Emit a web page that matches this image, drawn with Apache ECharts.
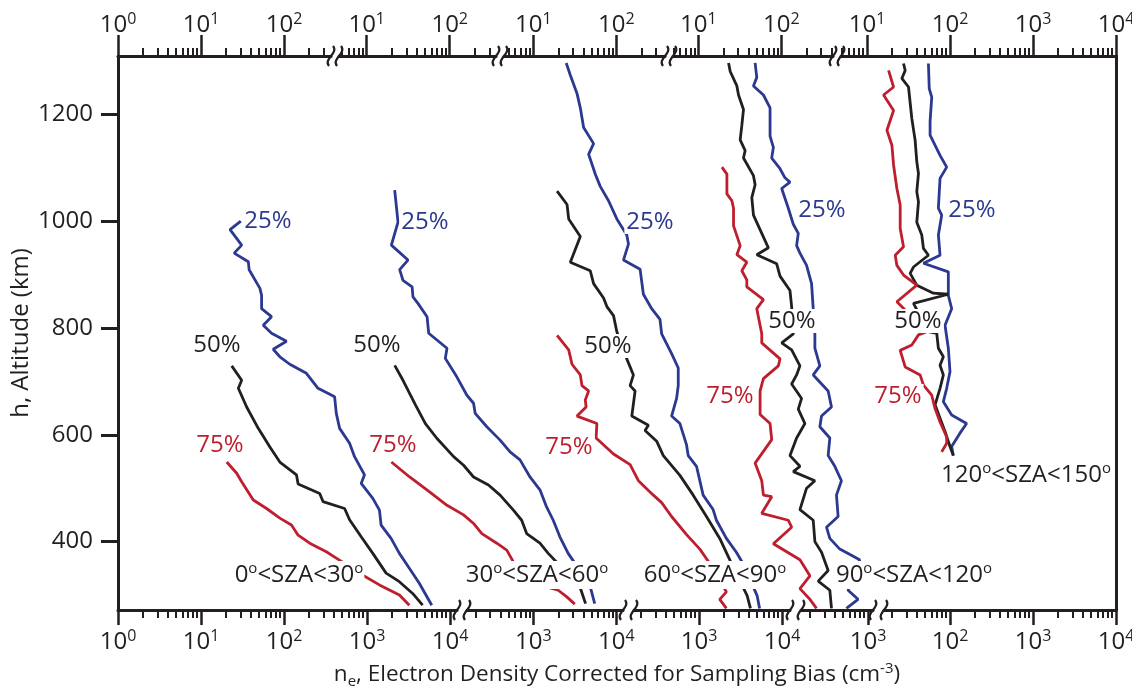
<!DOCTYPE html>
<html>
<head>
<meta charset="utf-8">
<title>Electron density profiles</title>
<script src="https://cdn.jsdelivr.net/npm/echarts@6/dist/echarts.min.js"></script>
<style>
html, body { margin: 0; padding: 0; background: #fff; }
#chart { width: 1132px; height: 688px; }
</style>
</head>
<body>
<div id="chart"></div>
<script>
// profiles: [log10 n_e (cm^-3) on the panel's bottom axis, altitude km]
var q25_sza0 = [[1.48,1000],[1.35,984],[1.49,955],[1.40,940],[1.57,924],[1.58,909],[1.71,874],[1.73,861],[1.73,836],[1.85,821],[1.75,805],[1.85,790],[2.03,775],[1.87,760],[1.95,746],[2.07,732],[2.27,715],[2.41,687],[2.61,671],[2.63,640],[2.67,612],[2.79,584],[2.85,559],[2.97,525],[2.93,509],[3.07,481],[3.15,459],[3.17,431],[3.29,406],[3.39,378],[3.51,350],[3.63,322],[3.78,281]];
var q50_sza0 = [[1.37,729],[1.49,702],[1.45,687],[1.55,652],[1.69,612],[1.83,577],[1.95,549],[2.15,525],[2.17,508],[2.43,490],[2.47,475],[2.73,462],[2.79,441],[2.93,409],[3.07,378],[3.23,341],[3.39,325],[3.55,303],[3.67,281]];
var q75_sza0 = [[1.31,549],[1.43,528],[1.49,512],[1.63,478],[1.79,462],[1.95,444],[2.09,431],[2.17,412],[2.31,397],[2.51,381],[2.63,369],[2.95,337],[3.15,319],[3.39,300],[3.51,281]];

var q25_sza30 = [[1.33,1058],[1.37,998],[1.29,955],[1.49,927],[1.39,909],[1.43,889],[1.54,877],[1.55,858],[1.61,846],[1.72,821],[1.74,790],[1.96,762],[1.94,743],[2.08,708],[2.20,674],[2.28,659],[2.30,640],[2.44,615],[2.60,590],[2.72,568],[2.84,553],[2.96,521],[3.08,497],[3.16,465],[3.24,440],[3.32,409],[3.42,378],[3.68,319],[3.74,284]];
var q50_sza30 = [[1.33,730],[1.43,702],[1.58,656],[1.70,621],[1.84,593],[2.04,559],[2.16,543],[2.28,521],[2.46,506],[2.60,487],[2.76,459],[2.86,440],[2.92,415],[3.08,397],[3.18,378],[3.56,316],[3.63,284]];
var q75_sza30 = [[1.29,549],[1.51,521],[1.75,493],[1.96,468],[2.16,450],[2.28,434],[2.38,415],[2.56,397],[2.68,384],[2.76,362],[3.00,322],[3.30,309],[3.40,297],[3.50,283]];

var q25_sza60 = [[1.40,1296],[1.45,1273],[1.53,1239],[1.57,1212],[1.61,1175],[1.73,1145],[1.67,1125],[1.75,1088],[1.81,1065],[1.91,1038],[2.01,1004],[2.13,974],[2.15,957],[2.09,927],[2.29,910],[2.33,863],[2.43,836],[2.53,816],[2.55,789],[2.67,752],[2.75,725],[2.75,692],[2.73,668],[2.67,635],[2.77,621],[2.85,581],[2.87,561],[2.97,541],[3.05,487],[3.17,460],[3.21,440],[3.33,406],[3.45,380],[3.53,359],[3.70,299],[3.73,275]];
var q50_sza60 = [[1.29,1056],[1.41,1031],[1.43,1004],[1.57,971],[1.45,923],[1.69,907],[1.73,883],[1.85,856],[1.89,840],[1.97,823],[2.01,793],[2.13,742],[2.21,712],[2.17,692],[2.23,682],[2.21,658],[2.19,635],[2.39,618],[2.35,608],[2.49,588],[2.57,561],[2.77,524],[2.93,487],[3.09,447],[3.25,406],[3.35,373],[3.41,353],[3.58,299],[3.62,275]];
var q75_sza60 = [[1.29,786],[1.43,759],[1.47,732],[1.57,712],[1.59,692],[1.67,682],[1.63,665],[1.64,652],[1.53,635],[1.77,621],[1.76,594],[1.97,564],[2.17,544],[2.27,514],[2.45,487],[2.55,473],[2.67,447],[2.85,413],[3.01,386],[3.13,359],[3.33,306],[3.25,292],[3.33,275]];

var q25_sza90 = [[1.64,1296],[1.66,1269],[1.62,1253],[1.74,1236],[1.82,1212],[1.82,1159],[1.86,1138],[1.84,1118],[1.94,1098],[2.00,1081],[2.06,1073],[1.96,1061],[2.04,1024],[2.10,994],[2.16,977],[2.14,954],[2.18,940],[2.26,917],[2.32,883],[2.34,836],[2.36,789],[2.36,762],[2.42,729],[2.34,712],[2.52,682],[2.56,652],[2.44,635],[2.42,615],[2.54,594],[2.52,561],[2.60,541],[2.68,514],[2.62,487],[2.64,447],[2.50,427],[2.54,406],[2.66,386],[2.90,366],[2.76,309],[2.88,292],[2.74,275]];
var q50_sza90 = [[1.32,1296],[1.34,1280],[1.42,1253],[1.44,1236],[1.50,1209],[1.48,1179],[1.46,1152],[1.52,1132],[1.50,1118],[1.62,1085],[1.64,1068],[1.60,1044],[1.62,1011],[1.72,977],[1.80,950],[1.66,937],[1.90,920],[1.94,897],[2.06,870],[2.08,840],[2.10,789],[1.96,772],[2.08,759],[2.18,729],[2.14,712],[2.08,695],[2.20,668],[2.16,648],[2.24,621],[2.14,594],[2.06,561],[2.18,541],[2.10,531],[2.36,514],[2.26,500],[2.18,460],[2.34,440],[2.36,400],[2.44,380],[2.52,346],[2.40,326],[2.54,309],[2.56,275]];
var q75_sza90 = [[1.24,1101],[1.30,1088],[1.30,1051],[1.36,1038],[1.38,1024],[1.38,991],[1.46,954],[1.42,937],[1.54,923],[1.48,907],[1.54,890],[1.54,877],[1.74,853],[1.66,836],[1.72,789],[1.72,772],[1.94,742],[1.92,729],[1.74,705],[1.70,682],[1.70,638],[1.82,621],[1.84,591],[1.64,547],[1.72,514],[1.74,487],[1.84,484],[1.72,453],[2.04,440],[2.08,427],[1.86,396],[2.18,366],[2.30,336],[2.18,312],[2.30,292],[2.38,275]];

var q25_sza120 = [[1.74,1295],[1.75,1248],[1.78,1232],[1.76,1186],[1.76,1161],[1.88,1123],[1.96,1101],[1.88,1080],[1.86,1024],[1.90,1011],[1.86,974],[1.88,936],[1.68,921],[1.98,905],[1.98,861],[2.02,836],[1.94,805],[1.98,762],[2.00,718],[1.96,687],[1.92,662],[2.02,637],[2.20,621],[2.12,603],[2.02,578],[2.04,561]];
var q50_sza120 = [[1.44,1295],[1.46,1282],[1.42,1267],[1.50,1251],[1.54,1192],[1.58,1151],[1.60,1111],[1.62,1089],[1.60,1055],[1.62,1036],[1.60,998],[1.66,974],[1.68,949],[1.74,936],[1.56,914],[1.52,902],[1.60,880],[1.80,865],[1.98,863],[1.56,846],[1.74,793],[1.84,790],[1.86,762],[1.92,746],[1.88,730],[1.92,712],[1.88,687],[1.82,656],[1.88,631],[1.94,606],[2.00,578],[2.04,561]];
var q75_sza120 = [[1.26,1282],[1.32,1251],[1.20,1236],[1.32,1207],[1.24,1170],[1.30,1142],[1.32,1105],[1.36,1061],[1.40,1030],[1.40,986],[1.44,952],[1.34,936],[1.36,917],[1.44,899],[1.60,880],[1.36,849],[1.72,793],[1.62,787],[1.54,768],[1.40,758],[1.46,727],[1.64,712],[1.68,693],[1.78,674],[1.82,649],[1.88,624],[1.96,596],[1.96,584],[1.90,568]];

var szaBins = [['0', '30'], ['30', '60'], ['60', '90'], ['90', '120'], ['120', '150']];
var quartileNames = ['25%', '50%', '75%'];
var altTicks = [400, 600, 800, 1000, 1200];
var minorMantissa = [2, 3, 4, 5, 6, 7, 8, 9];

var FONT = '"Open Sans", sans-serif';
var BLUE = '#2b3990', RED = '#be1e2d', BLACK = '#231f20';
var D = 83;            // px per decade
var PLOT_LEFT = 118, PLOT_RIGHT = 1116;
var PLOT_TOP = 56, PLOT_H = 554;
var H_MIN = 272, H_MAX = 1309;

// broken log axes: [left px, right px, exponent of ref tick, ref tick px]
var bottomPanels = [[118, 457, 0, 118], [467, 623, 3, 533.3], [634, 790, 3, 699], [801, 873, 3, 868], [884, 1116, 4, 1116]];
var topPanels = [[118, 331, 0, 118], [339, 496, 1, 366.7], [504, 665, 1, 533.3], [673, 833, 1, 698.4], [841, 1116, 4, 1116]];

// label layout (center px)
var pctPos = [[[268,221],[217,345],[220,445]], [[425,222],[377,345],[393,445]], [[650,222],[608,346],[569,447]],
              [[822,210],[792,321],[730,396]], [[972,210],[918,321],[898,396]]];
var szaPos = [[299,575], [537,575], [715,575], [914,575], [1026,475]];

var powRich = {
	b: {fontFamily: FONT, fontSize: 24, lineHeight: 28, color: BLACK},
	s: {fontFamily: FONT, fontSize: 16, lineHeight: 18, verticalAlign: 'top', color: BLACK}
};
function fmtPow(v) {
	return '{b|10}{s|' + Math.round(v) + '}';
}

var grids = [{left: PLOT_LEFT, top: PLOT_TOP, width: PLOT_RIGHT - PLOT_LEFT, height: PLOT_H, containLabel: false, outerBoundsMode: 'none'}];
var xAxes = [{
	type: 'value', gridIndex: 0, position: 'bottom', min: 0, max: 1,
	axisLine: {show: false}, axisTick: {show: false}, axisLabel: {show: false}, splitLine: {show: false},
	name: '{t|n}{sub|e}{t|, Electron Density Corrected for Sampling Bias (cm}{sup|-3}{t|)}',
	nameLocation: 'middle', nameGap: 51,
	nameTextStyle: {
		rich: {
			t: {fontFamily: FONT, fontSize: 22.5, lineHeight: 28, color: BLACK},
			sub: {fontFamily: FONT, fontSize: 15, lineHeight: 16, verticalAlign: 'bottom', color: BLACK},
			sup: {fontFamily: FONT, fontSize: 15, lineHeight: 18, verticalAlign: 'top', color: BLACK}
		}
	}
}];
var yAxes = [{
	type: 'value', gridIndex: 0, position: 'left', min: H_MIN, max: H_MAX,
	axisLine: {show: true, onZero: false, lineStyle: {color: BLACK, width: 3}},
	axisTick: {show: true, inside: false, length: 17, customValues: altTicks, lineStyle: {color: BLACK, width: 3}},
	axisLabel: {show: true, customValues: altTicks, margin: 25, fontFamily: FONT, fontSize: 24, color: BLACK,
		formatter: function (v) { return String(v); }},
	splitLine: {show: false},
	name: 'h, Altitude (km)', nameLocation: 'middle', nameGap: 85, nameMoveOverlap: false,
	nameTextStyle: {fontFamily: FONT, fontSize: 24, color: BLACK}
}, {
	type: 'value', gridIndex: 0, position: 'right', min: H_MIN, max: H_MAX,
	axisLine: {show: true, onZero: false, lineStyle: {color: BLACK, width: 3}},
	axisTick: {show: false}, axisLabel: {show: false}, splitLine: {show: false}
}];

function panelRange(p, left, right) {
	return [p[2] - (p[3] - left) / D, p[2] + (right - p[3]) / D];
}

function addPanel(p, pos, majorLen) {
	var gi = grids.length;
	grids.push({left: p[0], top: PLOT_TOP, width: p[1] - p[0], height: PLOT_H, containLabel: false, outerBoundsMode: 'none'});
	yAxes.push({type: 'value', gridIndex: gi, min: H_MIN, max: H_MAX, show: false});
	var r = panelRange(p, p[0], p[1]);
	var min = r[0], max = r[1];
	var majors = [], minors = [];
	for (var e = Math.floor(min); e <= Math.ceil(max); e++) {
		if (e >= min - 1e-9 && e <= max + 1e-9) majors.push(e);
		for (var i = 0; i < minorMantissa.length; i++) {
			var v = e + Math.log10(minorMantissa[i]);
			if (v > min && v < max) minors.push(v);
		}
	}
	xAxes.push({
		type: 'value', gridIndex: gi, position: pos, min: min, max: max,
		axisLine: {show: true, onZero: false, lineStyle: {color: BLACK, width: 3}},
		axisTick: {show: true, inside: false, length: majorLen, customValues: majors, lineStyle: {color: BLACK, width: 2.5}},
		axisLabel: {show: true, customValues: majors, margin: pos == 'top' ? 17 : 18, formatter: fmtPow, rich: powRich},
		splitLine: {show: false}
	});
	xAxes.push({
		type: 'value', gridIndex: gi, position: pos, min: min, max: max,
		axisLine: {show: false, onZero: false},
		axisTick: {show: true, inside: false, length: 8, customValues: minors, lineStyle: {color: BLACK, width: 2}},
		axisLabel: {show: false}, splitLine: {show: false}
	});
}

bottomPanels.forEach(function (p) { addPanel(p, 'bottom', 15); });
topPanels.forEach(function (p) { addPanel(p, 'top', 21); });

// each SZA group is drawn on its bottom panel's scale, stretched over the whole frame
var groupAxis = bottomPanels.map(function (p) {
	var r = panelRange(p, PLOT_LEFT, PLOT_RIGHT);
	xAxes.push({type: 'value', gridIndex: 0, position: 'bottom', min: r[0], max: r[1], show: false});
	return xAxes.length - 1;
});

var profiles = [
	[q25_sza0, q50_sza0, q75_sza0],
	[q25_sza30, q50_sza30, q75_sza30],
	[q25_sza60, q50_sza60, q75_sza60],
	[q25_sza90, q50_sza90, q75_sza90],
	[q25_sza120, q50_sza120, q75_sza120]
];
var quartileColors = [BLUE, BLACK, RED];

var series = [];
profiles.forEach(function (grp, g) {
	grp.forEach(function (data, q) {
		series.push({
			type: 'line',
			name: szaBins[g][0] + '-' + szaBins[g][1] + ' ' + quartileNames[q],
			xAxisIndex: groupAxis[g],
			yAxisIndex: 0,
			data: data,
			symbol: 'none',
			z: 2,
			lineStyle: {color: quartileColors[q], width: 2.8}
		});
	});
});

// labels and axis break marks
var elements = [];
pctPos.forEach(function (grp, g) {
	grp.forEach(function (pt, q) {
		elements.push({
			type: 'text', x: pt[0], y: pt[1], z: 100,
			style: {
				text: quartileNames[q], fill: quartileColors[q], font: '24px ' + FONT,
				align: 'center', verticalAlign: 'middle', backgroundColor: '#fff', padding: [0, 2]
			}
		});
	});
});
var degRich = {
	n: {fontFamily: FONT, fontSize: 24, lineHeight: 28, fill: BLACK},
	s: {fontFamily: FONT, fontSize: 15, lineHeight: 20, verticalAlign: 'top', fill: BLACK}
};
szaBins.forEach(function (b, g) {
	elements.push({
		type: 'text', x: szaPos[g][0], y: szaPos[g][1], z: 100,
		style: {
			text: '{n|' + b[0] + '}{s|o}{n|<SZA<' + b[1] + '}{s|o}', rich: degRich,
			align: 'center', verticalAlign: 'middle', backgroundColor: '#fff', padding: [0, 1]
		}
	});
});
function squiggle(x, y) {
	return {
		type: 'bezierCurve', z: 100,
		shape: {x1: x + 2, y1: y - 10, cpx1: x + 8, cpy1: y - 3, cpx2: x - 8, cpy2: y + 3, x2: x - 2, y2: y + 10},
		style: {stroke: BLACK, lineWidth: 2.2, fill: null}
	};
}
function addBreaks(panels, y) {
	for (var i = 1; i < panels.length; i++) {
		elements.push(squiggle(panels[i - 1][1], y));
		elements.push(squiggle(panels[i][0], y));
	}
}
addBreaks(bottomPanels, PLOT_TOP + PLOT_H);
addBreaks(topPanels, PLOT_TOP);

var myChart = echarts.init(document.getElementById('chart'));
option = {
	animation: false,
	backgroundColor: '#fff',
	grid: grids,
	xAxis: xAxes,
	yAxis: yAxes,
	series: series,
	graphic: {elements: elements}
};
myChart.setOption(option);
</script>
</body>
</html>
